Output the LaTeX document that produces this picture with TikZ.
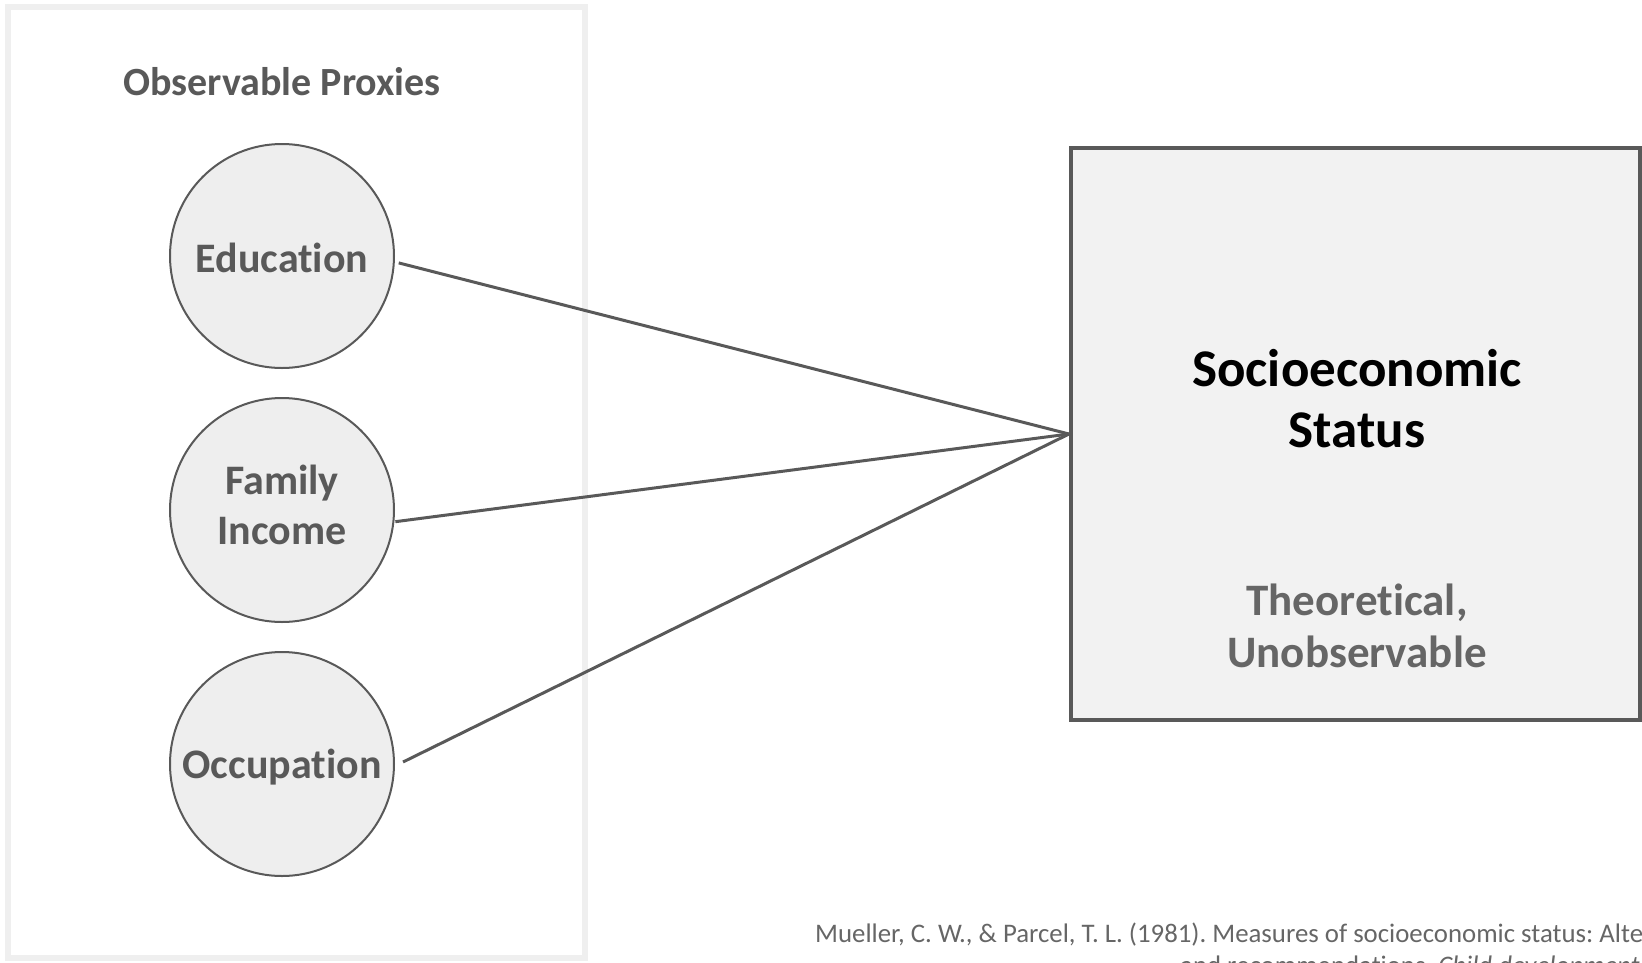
\documentclass[tikz,border=0pt]{standalone}
\usepackage{fontspec}
\setmainfont{Carlito}[Ligatures=NoCommon]
\definecolor{inkgray}{HTML}{595959}
\definecolor{softgray}{HTML}{666666}
\definecolor{panelline}{HTML}{EFEFEF}
\definecolor{circlefill}{HTML}{EEEEEE}
\definecolor{boxfill}{HTML}{F2F2F2}
\frenchspacing
\begin{document}
\begin{tikzpicture}[x=1pt,y=-1pt,
  panelbox/.style={draw=panelline, line width=6pt},
  proxy/.style={circle, draw=inkgray, fill=circlefill, line width=2pt,
    minimum size=224pt, inner sep=0pt},
  proxytext/.style={text=inkgray, align=center, inner sep=0pt,
    font=\bfseries\fontsize{42}{50}\selectfont},
  construct/.style={rectangle, draw=inkgray, fill=boxfill, line width=4pt,
    minimum width=569pt, minimum height=572pt, inner sep=0pt},
  link/.style={draw=inkgray, line width=3pt},
  heading/.style={text=inkgray, font=\bfseries\fontsize{40}{48}\selectfont},
  sestitle/.style={text=black, align=center, font=\bfseries\fontsize{53}{61}\selectfont},
  seskind/.style={text=softgray, align=center, font=\bfseries\fontsize{45}{52}\selectfont},
  citeline/.style={text=softgray, inner sep=0pt, font=\fontsize{26.8}{32}\selectfont}
]
\useasboundingbox (0,0) rectangle (1642,962);
\begin{scope}
\clip (0,0) rectangle (1642,962);

% left panel holding the measured indicators
\draw[panelbox] (8,7) rectangle (585,958);
\node[heading] (head) at (282,82) {Observable Proxies};

\node[proxy] (edu) at (282,256) {};
\node[proxy] (inc) at (282,510) {};
\node[proxy] (occ) at (282,764) {};
\node[proxytext] (edutxt) at (282,258) {Education};
\node[proxytext] (inctxt) at (282,505) {Family\\Income};
\node[proxytext] (occtxt) at (282,767) {Occupation};

% latent construct
\node[construct] (ses) at (1355.5,434) {};
\node[sestitle] (sesname) at (1357,399) {Socioeconomic\\Status};
\node[seskind] (seskindtxt) at (1357,626) {Theoretical,\\Unobservable};

% indicator links
\draw[link, shorten <=4pt] (edu.-3) -- (ses.west);
\draw[link, shorten <=1pt] (inc.-6) -- (ses.west);
\draw[link, shorten <=9pt] (occ.-1) -- (ses.west);

% reference
\node[citeline, anchor=base west] (cite1) at (815,942)
  {Mueller, C. W., \& Parcel, T. L. (1981). Measures of socioeconomic status: Alternatives};
\node[citeline, anchor=base west] (cite2) at (1180,974)
  {and recommendations. \textit{Child development}};
\end{scope}
\end{tikzpicture}
\end{document}
